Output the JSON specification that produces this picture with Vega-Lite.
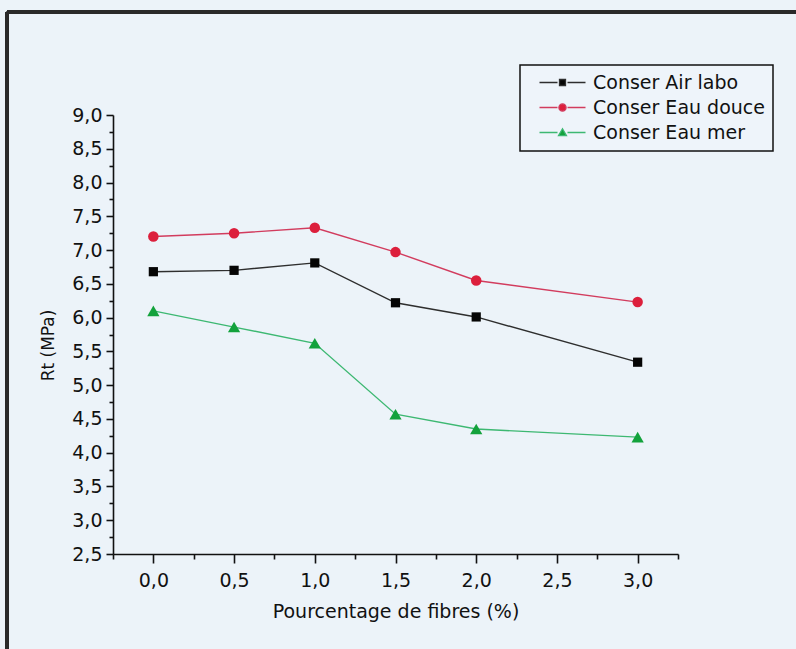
{
  "$schema": "https://vega.github.io/schema/vega-lite/v6.json",
  "width": 565,
  "height": 439,
  "autosize": {"type": "none"},
  "padding": {"left": 113, "top": 115, "right": 118, "bottom": 95},
  "background": "#ecf3f9",
  "config": {
    "view": {"stroke": null},
    "font": "DejaVu Sans",
    "axis": {
      "domainColor": "#111111",
      "tickColor": "#111111",
      "labelColor": "#111111",
      "titleColor": "#111111",
      "labelFont": "DejaVu Sans",
      "titleFont": "DejaVu Sans",
      "labelFontSize": 19,
      "titleFontSize": 19,
      "titleFontWeight": "normal",
      "grid": false,
      "domainWidth": 1.6,
      "tickWidth": 1.6
    },
    "legend": {
      "orient": "none",
      "legendX": 407,
      "legendY": -50,
      "strokeColor": "#111111",
      "strokeWidth": 1.5,
      "fillColor": "#eef4fa",
      "padding": 8,
      "labelFont": "DejaVu Sans",
      "labelFontSize": 19,
      "labelColor": "#111111",
      "labelLimit": 0,
      "symbolSize": 64,
      "labelOffset": 46,
      "rowPadding": 5,
      "symbolStrokeWidth": 1.3,
      "symbolOpacity": 1
    }
  },
  "data": {
    "values": [
      {"pct": 0.0, "rt": 6.68, "serie": "Conser Air labo"},
      {"pct": 0.5, "rt": 6.70, "serie": "Conser Air labo"},
      {"pct": 1.0, "rt": 6.81, "serie": "Conser Air labo"},
      {"pct": 1.5, "rt": 6.22, "serie": "Conser Air labo"},
      {"pct": 2.0, "rt": 6.01, "serie": "Conser Air labo"},
      {"pct": 3.0, "rt": 5.34, "serie": "Conser Air labo"},
      {"pct": 0.0, "rt": 7.20, "serie": "Conser Eau douce"},
      {"pct": 0.5, "rt": 7.25, "serie": "Conser Eau douce"},
      {"pct": 1.0, "rt": 7.33, "serie": "Conser Eau douce"},
      {"pct": 1.5, "rt": 6.97, "serie": "Conser Eau douce"},
      {"pct": 2.0, "rt": 6.55, "serie": "Conser Eau douce"},
      {"pct": 3.0, "rt": 6.23, "serie": "Conser Eau douce"},
      {"pct": 0.0, "rt": 6.10, "serie": "Conser Eau mer"},
      {"pct": 0.5, "rt": 5.86, "serie": "Conser Eau mer"},
      {"pct": 1.0, "rt": 5.62, "serie": "Conser Eau mer"},
      {"pct": 1.5, "rt": 4.57, "serie": "Conser Eau mer"},
      {"pct": 2.0, "rt": 4.35, "serie": "Conser Eau mer"},
      {"pct": 3.0, "rt": 4.23, "serie": "Conser Eau mer"}
    ]
  },
  "layer": [
    {
      "mark": {"type": "rule", "stroke": "#2a2a2a", "strokeWidth": 3},
      "encoding": {
        "x": {"datum": -0.907, "type": "quantitative", "scale": {"domain": [-0.25, 3.25]}, "axis": null},
        "y": {"datum": 10.525, "type": "quantitative", "scale": {"domain": [2.5, 9.0]}, "axis": null},
        "x2": {"datum": 3.981}
      }
    },
    {
      "mark": {"type": "rule", "stroke": "#2a2a2a", "strokeWidth": 3},
      "encoding": {
        "x": {"datum": -0.907, "type": "quantitative", "scale": {"domain": [-0.25, 3.25]}, "axis": null},
        "y": {"datum": 10.525, "type": "quantitative", "scale": {"domain": [2.5, 9.0]}, "axis": null},
        "y2": {"datum": 1.094}
      }
    },
    {
      "mark": {"type": "line", "strokeWidth": 1.4},
      "encoding": {
        "x": {
          "field": "pct", "type": "quantitative",
          "scale": {"domain": [-0.25, 3.25]},
          "axis": {
            "orient": "bottom",
            "values": [0, 0.5, 1, 1.5, 2, 2.5, 3],
            "labelExpr": "replace(format(datum.value, '.1f'), '.', ',')",
            "tickSize": 9,
            "labelPadding": 8,
            "title": "Pourcentage de fibres (%)",
            "titlePadding": 12
          }
        },
        "y": {
          "field": "rt", "type": "quantitative",
          "scale": {"domain": [2.5, 9.0]},
          "axis": {
            "orient": "left",
            "values": [2.5, 3, 3.5, 4, 4.5, 5, 5.5, 6, 6.5, 7, 7.5, 8, 8.5, 9],
            "labelExpr": "replace(format(datum.value, '.1f'), '.', ',')",
            "tickSize": 7,
            "labelPadding": 4,
            "title": "Rt (MPa)",
            "titleFontSize": 17,
            "titlePadding": 14,
            "titleY": 230
          }
        },
        "color": {
          "field": "serie", "type": "nominal",
          "scale": {"range": ["#2e2e2e", "#d23c5e", "#3db872"]},
          "legend": null
        }
      }
    },
    {
      "transform": [{"filter": "datum.serie == 'Conser Air labo'"}],
      "mark": {"type": "point", "shape": "square", "filled": true, "opacity": 1, "size": 85, "color": "#050505"},
      "encoding": {
        "x": {"field": "pct", "type": "quantitative", "scale": {"domain": [-0.25, 3.25]}, "axis": null},
        "y": {"field": "rt", "type": "quantitative", "scale": {"domain": [2.5, 9.0]}, "axis": null}
      }
    },
    {
      "transform": [{"filter": "datum.serie == 'Conser Eau douce'"}],
      "mark": {"type": "point", "shape": "circle", "filled": true, "opacity": 1, "size": 110, "color": "#dc1f3c"},
      "encoding": {
        "x": {"field": "pct", "type": "quantitative", "scale": {"domain": [-0.25, 3.25]}, "axis": null},
        "y": {"field": "rt", "type": "quantitative", "scale": {"domain": [2.5, 9.0]}, "axis": null}
      }
    },
    {
      "transform": [{"filter": "datum.serie == 'Conser Eau mer'"}],
      "mark": {"type": "point", "shape": "triangle-up", "filled": true, "opacity": 1, "size": 150, "color": "#13a23c"},
      "encoding": {
        "x": {"field": "pct", "type": "quantitative", "scale": {"domain": [-0.25, 3.25]}, "axis": null},
        "y": {"field": "rt", "type": "quantitative", "scale": {"domain": [2.5, 9.0]}, "axis": null}
      }
    },
    {
      "mark": {"type": "point", "filled": true, "opacity": 0.001},
      "encoding": {
        "x": {
          "field": "pct", "type": "quantitative",
          "scale": {"domain": [-0.25, 3.25]},
          "axis": {
            "orient": "bottom",
            "values": [-0.25, 0.25, 0.75, 1.25, 1.75, 2.25, 2.75, 3.25],
            "labels": false,
            "domain": false,
            "tickSize": 5,
            "title": null
          }
        },
        "y": {
          "field": "rt", "type": "quantitative",
          "scale": {"domain": [2.5, 9.0]},
          "axis": {
            "orient": "left",
            "values": [2.75, 3.25, 3.75, 4.25, 4.75, 5.25, 5.75, 6.25, 6.75, 7.25, 7.75, 8.25, 8.75],
            "labels": false,
            "domain": false,
            "tickSize": 4,
            "title": null
          }
        },
        "shape": {
          "field": "serie", "type": "nominal", "title": null,
          "scale": {
            "domain": ["Conser Air labo", "Conser Eau douce", "Conser Eau mer"],
            "range": [
              "M0.5,0H5M7.5,0H12M5.5,-0.75H7V0.75H5.5Z",
              "M0.5,0H5M7.5,0H12M5.35,0A0.9,0.9,0,1,0,7.15,0A0.9,0.9,0,1,0,5.35,0Z",
              "M0.5,0H5M7.5,0H12M6.25,-0.95L7.25,0.8L5.25,0.8Z"
            ]
          }
        },
        "fill": {
          "field": "serie", "type": "nominal", "title": null,
          "scale": {
            "domain": ["Conser Air labo", "Conser Eau douce", "Conser Eau mer"],
            "range": ["#050505", "#dc1f3c", "#13a23c"]
          }
        },
        "stroke": {
          "field": "serie", "type": "nominal", "title": null,
          "scale": {
            "domain": ["Conser Air labo", "Conser Eau douce", "Conser Eau mer"],
            "range": ["#2e2e2e", "#d23c5e", "#3db872"]
          }
        }
      }
    }
  ],
  "resolve": {"axis": {"x": "independent", "y": "independent"}}
}
